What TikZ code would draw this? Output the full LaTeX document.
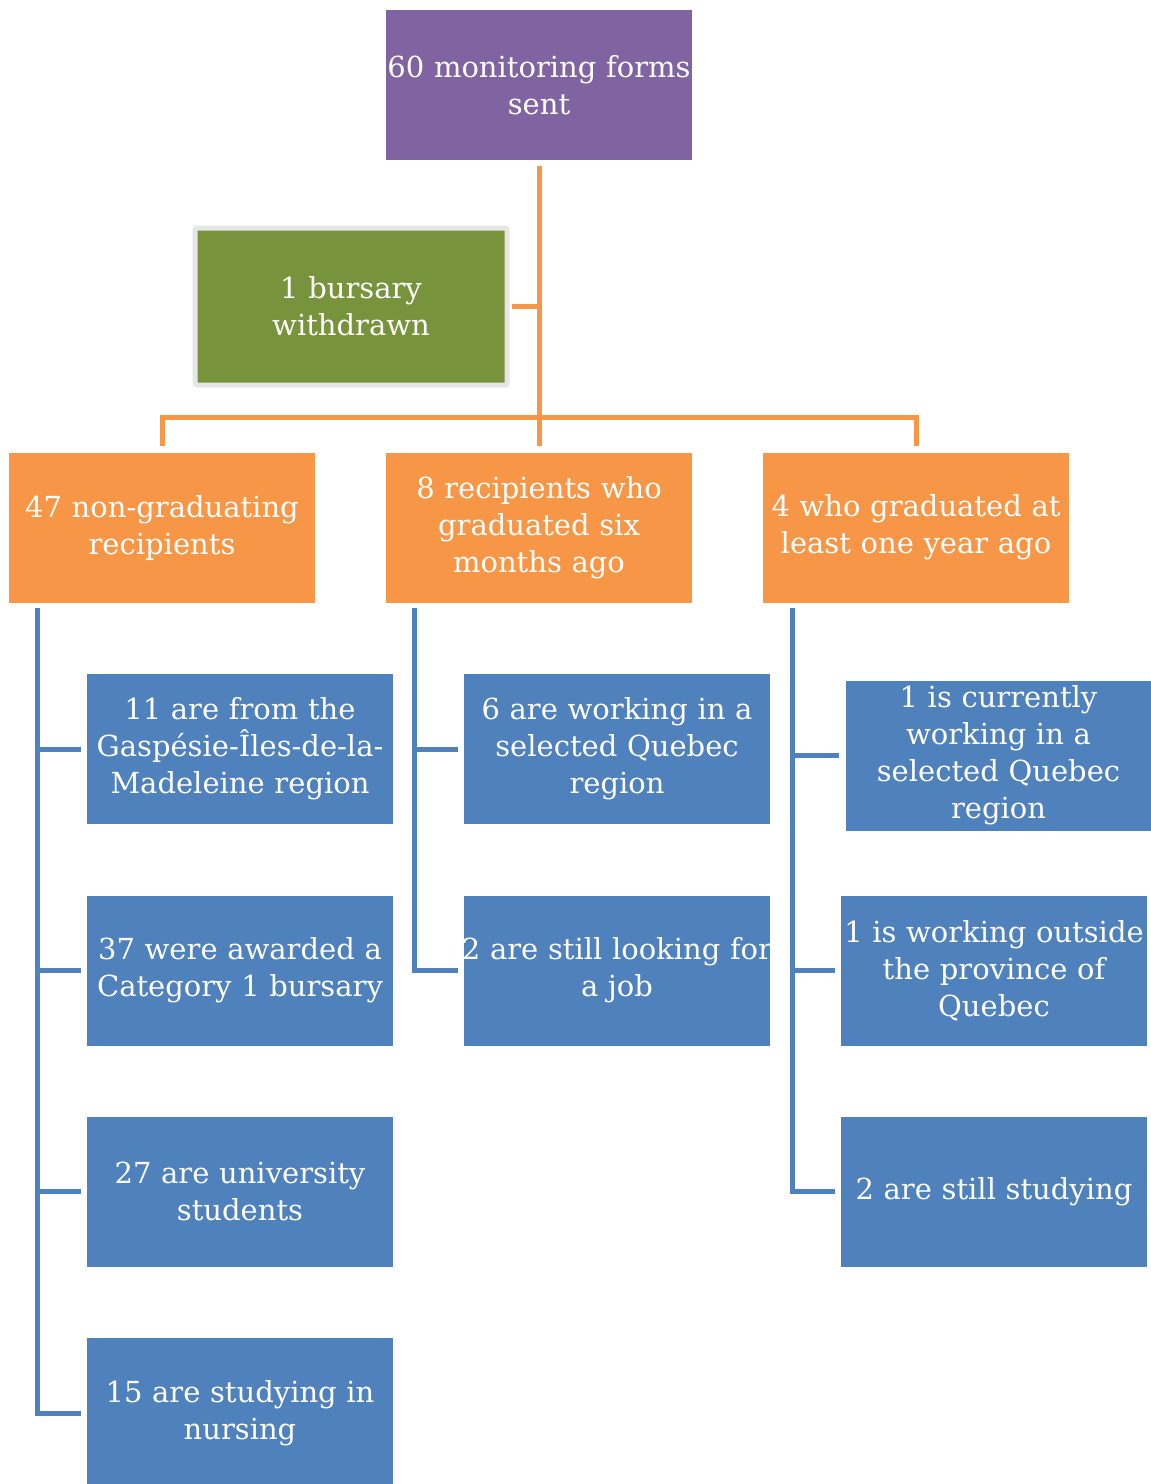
\documentclass[tikz,border=0pt]{standalone}
\usepackage{fontspec}
\setmainfont{DejaVu Serif}
\definecolor{cpurple}{HTML}{8064A2}
\definecolor{cgreen}{HTML}{77933C}
\definecolor{corange}{HTML}{F79646}
\definecolor{cblue}{HTML}{4F81BD}
\definecolor{cgray}{HTML}{E6E6E6}
\begin{document}
\begin{tikzpicture}[x=0.5pt,y=-0.5pt,
  box/.style={rectangle, minimum width=153pt, minimum height=75pt, inner sep=0pt, text width=153pt,
    text=white, align=center, font=\fontsize{14.5}{18.5}\selectfont},
  purplebox/.style={box, fill=cpurple},
  greenbox/.style={box, fill=cgreen, draw=cgray, line width=2.5pt, rounded corners=1pt, minimum width=156pt, minimum height=78.5pt},
  orangebox/.style={box, fill=corange},
  bluebox/.style={box, fill=cblue},
  oline/.style={draw=corange, line width=2.5pt},
  bline/.style={draw=cblue, line width=2.5pt},
]
\useasboundingbox (0,0) rectangle (1151,1484);
% top
\node[purplebox] (top) at (539,85) {\makebox[153pt]{60 monitoring forms}\\sent};
\node[greenbox] (wd) at (351,306.5) {1 bursary\\withdrawn};
% orange
\node[orangebox] (o1) at (162,527.5) {47 non-graduating\\recipients};
\node[orangebox] (o2) at (539,527.5) {8 recipients who\\graduated six\\months ago};
\node[orangebox] (o3) at (916,527.5) {4 who graduated at\\least one year ago};
% blue left
\node[bluebox] (a1) at (240,749) {11 are from the\\Gaspésie-Îles-de-la-\\Madeleine region};
\node[bluebox] (a2) at (240,970.5) {37 were awarded a\\Category 1 bursary};
\node[bluebox] (a3) at (240,1191.5) {27 are university\\students};
\node[bluebox] (a4) at (240,1413) {15 are studying in\\nursing};
% blue middle
\node[bluebox] (b1) at (617,749) {6 are working in a\\selected Quebec\\region};
\node[bluebox] (b2) at (617,970.5) {\makebox[153pt]{2 are still looking for}\\a job};
% blue right
\node[bluebox] (c1) at (998.5,755.5) {1 is currently\\working in a\\selected Quebec\\region};
\node[bluebox] (c2) at (994,970.5) {\makebox[153pt]{1 is working outside}\\the province of\\Quebec};
\node[bluebox] (c3) at (994,1191.5) {2 are still studying};
% orange connectors
\coordinate (tr) at (539,166);
\coordinate (hb) at (539,417);
\draw[oline] (tr) -- (hb) -- ([yshift=3pt]o2.north);
\draw[oline] ([yshift=3pt]o1.north) -- (o1.north |- hb) -- (o3.north |- hb) -- ([yshift=3pt]o3.north);
\draw[oline] ([xshift=1pt]wd.east) -- (tr |- wd.east);
% blue connectors
\coordinate (la) at (37,608);
\coordinate (ma) at (414,608);
\coordinate (ra) at (792,608);
\draw[bline] (la) |- ([xshift=-3pt]a4.west);
\draw[bline] (la |- a1.west) -- ([xshift=-3pt]a1.west);
\draw[bline] (la |- a2.west) -- ([xshift=-3pt]a2.west);
\draw[bline] (la |- a3.west) -- ([xshift=-3pt]a3.west);
\draw[bline] (ma) |- ([xshift=-3pt]b2.west);
\draw[bline] (ma |- b1.west) -- ([xshift=-3pt]b1.west);
\draw[bline] (ra) |- ([xshift=-3pt]c3.west);
\draw[bline] (ra |- c1.west) -- ([xshift=-3pt]c1.west);
\draw[bline] (ra |- c2.west) -- ([xshift=-3pt]c2.west);
\end{tikzpicture}
\end{document}
